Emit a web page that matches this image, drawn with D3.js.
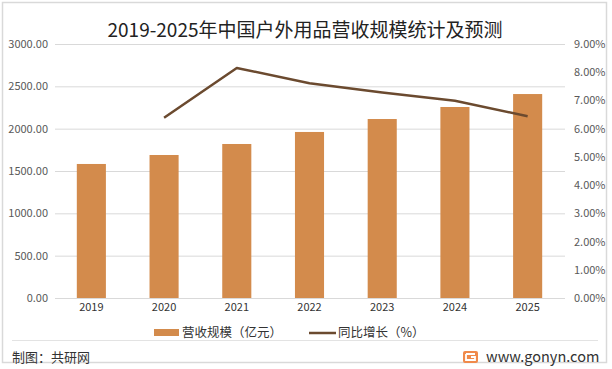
<!DOCTYPE html>
<html><head><meta charset="utf-8">
<script src="https://cdn.jsdelivr.net/npm/d3@7"></script>
<style>body{margin:0;background:#fff}svg{display:block}</style>
</head><body>
<script>
const categories = ["2019","2020","2021","2022","2023","2024","2025"];
const revenue = [1583, 1689, 1819, 1961, 2114, 2256, 2409];
const growth = [null, 6.39, 8.15, 7.61, 7.28, 6.99, 6.44];
const leftTicks = [0,500,1000,1500,2000,2500,3000];
const rightTicks = [0,1,2,3,4,5,6,7,8,9];
const title = "2019-2025年中国户外用品营收规模统计及预测";
const legendLabels = ["营收规模（亿元）","同比增长（%）"];

const W=612,H=369;
const font = "'Noto Sans CJK SC','Microsoft YaHei',sans-serif";
const svg = d3.select("body").append("svg").attr("width",W).attr("height",H);
svg.append("rect").attr("x",2.5).attr("y",2.5).attr("width",604).attr("height",360).attr("fill","#fff").attr("stroke","#d9d9d9").attr("stroke-width",1.5);

const x = d3.scaleBand().domain(categories).range([55,564]).paddingInner(0.6).paddingOuter(0.3);
const y = d3.scaleLinear().domain([0,3000]).range([298,44]);
const y2 = d3.scaleLinear().domain([0,9]).range([298,44]);

// gridlines
svg.append("g").selectAll("line").data(leftTicks).join("line")
  .attr("x1",55).attr("x2",565).attr("y1",d=>y(d)+0.5).attr("y2",d=>y(d)+0.5)
  .attr("stroke","#d9d9d9").attr("stroke-width",1);

// left axis
const la = svg.append("g").attr("transform","translate(48,0)")
  .call(d3.axisLeft(y).tickValues(leftTicks).tickFormat(d=>d3.format(".2f")(d)).tickSize(0).tickPadding(0));
la.select(".domain").remove();
la.selectAll("text").attr("font-family",font).attr("font-size",11).attr("fill","#595959");

const ra = svg.append("g").attr("transform","translate(574,0)")
  .call(d3.axisRight(y2).tickValues(rightTicks).tickFormat(d=>d3.format(".2f")(d)+"%").tickSize(0).tickPadding(0));
ra.select(".domain").remove();
ra.selectAll("text").attr("font-family",font).attr("font-size",11).attr("fill","#595959");

// bars
svg.append("g").selectAll("rect").data(categories).join("rect")
  .attr("x",d=>x(d)).attr("width",x.bandwidth())
  .attr("y",(d,i)=>y(revenue[i])).attr("height",(d,i)=>y(0)-y(revenue[i]))
  .attr("fill","#d38b4c");

// x axis labels
const xa = svg.append("g").attr("transform","translate(0,303)")
  .call(d3.axisBottom(x).tickSize(0).tickPadding(0));
xa.select(".domain").remove();
xa.selectAll("text").attr("font-family",font).attr("font-size",11).attr("fill","#333");

// line
const pts = categories.map((c,i)=>({c,v:growth[i]})).filter(d=>d.v!=null);
svg.append("path").datum(pts)
  .attr("d",d3.line().x(d=>x(d.c)+x.bandwidth()/2).y(d=>y2(d.v)))
  .attr("fill","none").attr("stroke","#6b4a2f").attr("stroke-width",2.5).attr("stroke-linejoin","round");

// title
svg.append("text").attr("x",305).attr("y",37).attr("text-anchor","middle")
  .attr("font-family",font).attr("font-size",19).attr("fill","#222").text(title);

// legend
const lg = svg.append("g");
lg.append("rect").attr("x",154).attr("y",329).attr("width",25).attr("height",7).attr("fill","#d38b4c");
lg.append("text").attr("x",182).attr("y",337).attr("font-family",font).attr("font-size",12.5).attr("fill","#333").text(legendLabels[0]);
lg.append("line").attr("x1",309).attr("x2",336).attr("y1",333).attr("y2",333).attr("stroke","#6b4a2f").attr("stroke-width",2.5);
lg.append("text").attr("x",338).attr("y",337).attr("font-family",font).attr("font-size",12.5).attr("fill","#333").text(legendLabels[1]);

// separator
svg.append("line").attr("x1",12).attr("x2",598).attr("y1",340.5).attr("y2",340.5).attr("stroke","#e3e3e3").attr("stroke-width",1);

// footer
svg.append("text").attr("x",12).attr("y",362).attr("font-family",font).attr("font-size",13).attr("fill","#333").text("制图：共研网");
const logo = svg.append("g").attr("transform","translate(463,351)");
logo.append("rect").attr("width",15).attr("height",12).attr("rx",2).attr("fill","#f08a4b");
logo.append("path").attr("d","M3,3 H12 M3,3 V9 H12 V6 H8").attr("fill","none").attr("stroke","#fff").attr("stroke-width",1.8);
svg.append("text").attr("x",486).attr("y",362).attr("font-family",font).attr("font-size",14.5).attr("fill","#333").text("www.gonyn.com");
</script>
</body></html>
